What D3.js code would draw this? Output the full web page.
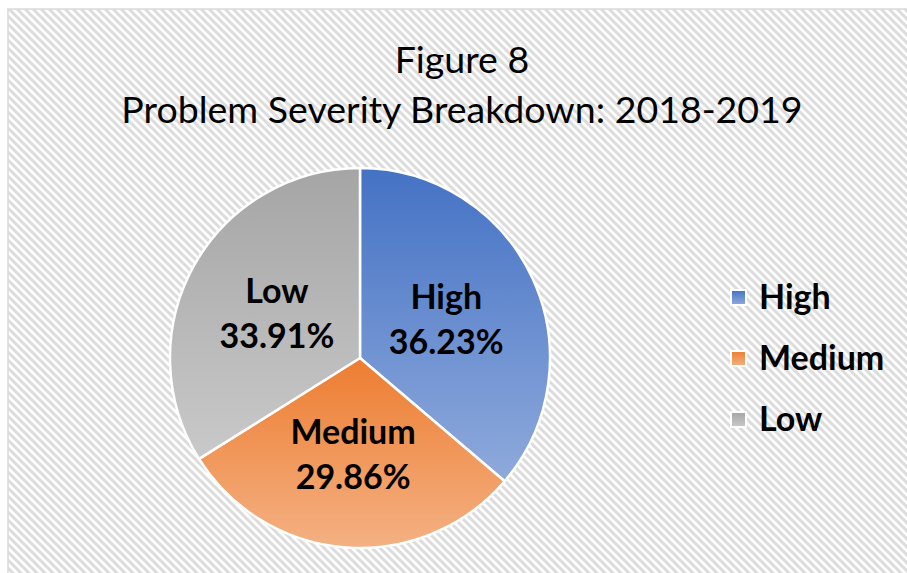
<!DOCTYPE html>
<html>
<head>
<meta charset="utf-8">
<script src="https://cdn.jsdelivr.net/npm/d3@7"></script>
<style>
  html, body { margin: 0; padding: 0; background: #ffffff; }
  svg { display: block; }
  text { font-family: Lato, "Open Sans", "Liberation Sans", sans-serif; }
</style>
</head>
<body>
<svg id="chart" width="907" height="573"></svg>
<script>
// ---- data ----
const categories = ["High", "Medium", "Low"];
const values = [36.23, 29.86, 33.91];
const titleLines = ["Figure 8", "Problem Severity Breakdown: 2018-2019"];
const colorsTop = ["#4472C4", "#ED7D31", "#A5A5A5"];
const colorsBottom = ["#8FAADC", "#F4B183", "#C9C9C9"];

const W = 907, H = 573;
const svg = d3.select("#chart");
const defs = svg.append("defs");

// hatched background (downward diagonal stripes)
const pat = defs.append("pattern")
  .attr("id", "hatch").attr("patternUnits", "userSpaceOnUse")
  .attr("width", 8).attr("height", 8);
pat.append("rect").attr("width", 8).attr("height", 8).attr("fill", "#ffffff");
pat.append("path")
  .attr("d", "M-2,-2 L10,10 M-2,6 L2,10 M6,-2 L10,2")
  .attr("stroke", "#dcdcdc").attr("stroke-width", 3);

svg.append("rect").attr("x", 0).attr("y", 0).attr("width", W).attr("height", H).attr("fill", "#ffffff");
svg.append("rect")
  .attr("x", 8).attr("y", 9).attr("width", W + 10).attr("height", H + 10)
  .attr("fill", "url(#hatch)")
  .attr("stroke", "#d9d9d9").attr("stroke-width", 1.5);

// gradients per slice
categories.forEach((c, i) => {
  const g = defs.append("linearGradient")
    .attr("id", "grad" + i).attr("x1", 0).attr("y1", 0).attr("x2", 0).attr("y2", 1);
  g.append("stop").attr("offset", "0%").attr("stop-color", colorsTop[i]);
  g.append("stop").attr("offset", "100%").attr("stop-color", colorsBottom[i]);
});

// title
const title = svg.append("g").attr("class", "title");
title.selectAll("text").data(titleLines).join("text")
  .attr("x", 462)
  .attr("y", (d, i) => 73 + i * 50)
  .attr("text-anchor", "middle")
  .attr("font-size", 37.5)
  .attr("fill", "#000")
  .text(d => d);

// pie
const cx = 360, cy = 358, R = 190;
const pie = d3.pie().sort(null).value(d => d.v);
const arcs = pie(categories.map((c, i) => ({ c, v: values[i], i })));
const arc = d3.arc().innerRadius(0).outerRadius(R);

const g = svg.append("g").attr("transform", `translate(${cx},${cy})`);
g.selectAll("path.slice").data(arcs).join("path")
  .attr("class", "slice")
  .attr("d", arc)
  .attr("fill", d => `url(#grad${d.data.i})`)
  .attr("stroke", "#ffffff")
  .attr("stroke-width", 2.5)
  .attr("stroke-linejoin", "round");

const lbl = g.selectAll("g.lbl").data(arcs).join("g")
  .attr("class", "lbl")
  .attr("transform", d => `translate(${arc.centroid(d)})`);
lbl.append("text")
  .attr("text-anchor", "middle").attr("y", -9)
  .attr("font-size", 34).attr("font-weight", "bold").attr("fill", "#000")
  .text(d => d.data.c);
lbl.append("text")
  .attr("text-anchor", "middle").attr("y", 36)
  .attr("font-size", 34).attr("font-weight", "bold").attr("fill", "#000")
  .text(d => d3.format(".2f")(d.data.v) + "%");

// legend
const leg = svg.append("g").attr("transform", "translate(731,290)");
const items = leg.selectAll("g").data(categories).join("g")
  .attr("transform", (d, i) => `translate(0,${i * 61})`);
items.append("rect")
  .attr("x", 0).attr("y", 0).attr("width", 15).attr("height", 15)
  .attr("fill", (d, i) => `url(#grad${i})`)
  .attr("stroke", "#ffffff").attr("stroke-width", 2);
items.append("text")
  .attr("x", 28).attr("y", 19)
  .attr("font-size", 34).attr("font-weight", "bold").attr("fill", "#000")
  .text(d => d);
</script>
</body>
</html>
